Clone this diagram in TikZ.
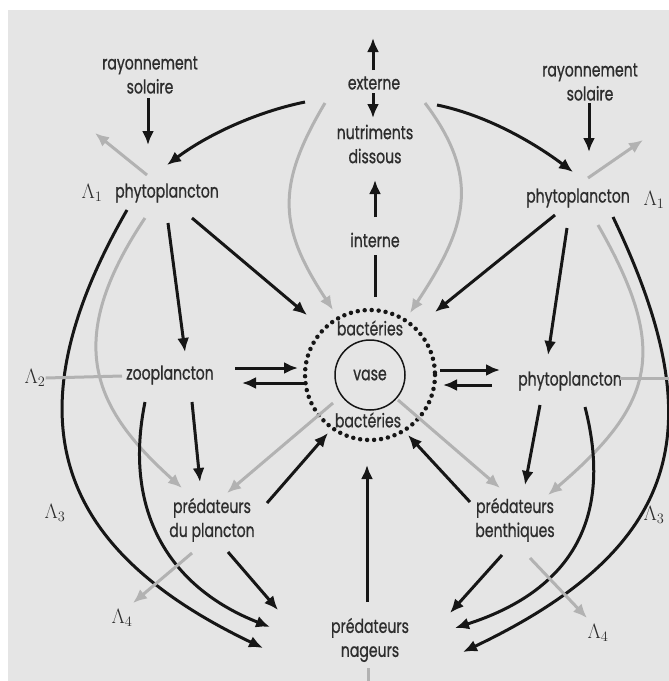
\documentclass[tikz,border=0pt]{standalone}
\usepackage{fontspec}
\setmainfont{Poppins}[FakeStretch=0.74,FakeBold=0.8]
\usetikzlibrary{arrows.meta,calc}
\definecolor{paper}{RGB}{229,229,229}
\definecolor{loss}{RGB}{178,178,178}
\definecolor{ink}{RGB}{22,22,22}

\begin{document}
\begin{tikzpicture}[x=1pt,y=-1pt,
  font=\fontsize{19}{24}\selectfont,
  lbl/.style={align=center,inner sep=1pt,text=ink!90},
  lam/.style={inner sep=0pt,text=ink!90,font=\fontsize{20}{20}\selectfont},
  ar/.style={-{Latex[length=14pt,width=12pt]},line width=3pt,draw=ink},
  gar/.style={ar,draw=loss},
  gln/.style={line width=3pt,draw=loss},
  ln/.style={line width=3pt,draw=ink}
]
% paper
\useasboundingbox (0,0) rectangle (669,681);
\clip (0,0) rectangle (669,681);
\fill[white] (0,0) rectangle (669,681);
\fill[paper] (8,10) rectangle (669,681);
% top row
\node[lbl] (ray1) at (150,75) {rayonnement\\solaire};
\node[lbl] (ray2) at (590,82) {rayonnement\\solaire};
\node[lbl] (ext) at (374,83) {externe};
\coordinate (up) at (373,38);
\node[lbl] (nut) at (375,144) {nutriments\\dissous};
\node[lbl] (int) at (375,240) {interne};
\node[lbl] (phy1) at (167,193) {phytoplancton};
\node[lbl] (phy2) at (578,198) {phytoplancton};
% sediment
\node[circle,draw=ink,line width=1.5pt,minimum size=70pt,inner sep=0pt,text=ink!90] (bact) at (370,375) {vase};
\draw[ink,line width=4.5pt,line cap=round,dash pattern=on 0pt off 7pt] (bact) circle[radius=65];
\node[lbl] (bt) at (370,328) {bactéries};
\node[lbl] (bb) at (368,420) {bactéries};
% middle row
\node[lbl] (zoo) at (170,375) {zooplancton};
\node[lbl] (phy3) at (570,381) {phytoplancton};
% predators
\node[lbl] (pdp) at (212,520) {prédateurs\\du plancton};
\node[lbl] (pben) at (515,520) {prédateurs\\benthiques};
\node[lbl] (pnag) at (370,640) {prédateurs\\nageurs};
\coordinate (down) at (368,690);
% losses
\node[lam] (L1a) at (92,193) {$\Lambda_1$};
\node[lam] (L1b) at (654,200) {$\Lambda_1$};
\node[lam] (L2a) at (35,378) {$\Lambda_2$};
\coordinate (L2b) at (675,378);
\node[lam] (L3a) at (55,513) {$\Lambda_3$};
\node[lam] (L3b) at (654,515) {$\Lambda_3$};
\node[lam] (L4a) at (122,618) {$\Lambda_4$};
\node[lam] (L4b) at (598,633) {$\Lambda_4$};

% nutrients
\draw[ar] ($(ext)+(-1,-13)$) -- (up);
\draw[ar] ($(ext)+(-1,10)$) -- ($(nut)+(-2,-26)$);
\draw[ar] ($(int)+(0,-23)$) -- ($(nut)+(0,36)$);
\draw[ln] ($(int)+(0,15)$) -- ($(bact)+(5,-78)$);
\draw[gar] ($(ext)+(-49,20)$) .. controls +(-50,84) and +(-54,-82) .. ($(bact)+(-37,-65)$);
\draw[gar] ($(ext)+(51,20)$) .. controls +(59,78) and +(54,-82) .. ($(bact)+(40,-62)$);
\draw[ar] ($(ext)+(-69,19)$) .. controls +(-49,10) and +(40,-30) .. ($(phy1)+(0,-28)$);
\draw[ar] ($(ext)+(63,22)$) .. controls +(49,10) and +(-40,-30) .. ($(phy2)+(-5,-26)$);
% left phytoplancton
\draw[ar] ($(ray1)+(-2,23)$) -- ($(phy1)+(-19,-48)$);
\draw[gar] ($(phy1)+(-20,-18)$) -- ($(phy1)+(-72,-60)$);
\draw[ar] ($(phy1)+(25,25)$) -- ($(bact)+(-63,-60)$);
\draw[ar] ($(phy1)+(1,30)$) -- ($(zoo)+(15,-23)$);
\draw[ar] ($(phy1)+(-40,17)$) .. controls +(-120,209) and +(-207,-99) .. ($(pnag)+(-107,8)$);
\draw[gar] ($(phy1)+(-22,25)$) .. controls +(-83,124) and +(-89,-80) .. ($(pdp)+(-30,-32)$);
% right phytoplancton
\draw[ar] ($(ray2)+(-1,21)$) -- ($(phy2)+(11,-46)$);
\draw[gar] ($(phy2)+(10,-20)$) -- ($(phy2)+(65,-58)$);
\draw[ar] ($(phy2)+(-23,17)$) -- ($(bact)+(65,-63)$);
\draw[ar] ($(phy2)+(-11,30)$) -- ($(phy3)+(-22,-26)$);
\draw[gar] ($(phy2)+(20,27)$) .. controls +(71,124) and +(108,-92) .. ($(pben)+(33,-25)$);
\draw[ar] ($(phy2)+(35,19)$) .. controls +(97,203) and +(227,-108) .. ($(pnag)+(93,12)$);
% exchanges with the sediment
\draw[ar] ($(zoo)+(65,-7)$) -- ($(bact)+(-72,-7)$);
\draw[ar] ($(bact)+(-65,8)$) -- ($(zoo)+(72,8)$);
\draw[ar] ($(bact)+(70,-5)$) -- ($(phy3)+(-70,-11)$);
\draw[ar] ($(phy3)+(-78,4)$) -- ($(bact)+(73,10)$);
% zooplancton side
\draw[gln] (L2a.east) -- ($(zoo)+(-48,1)$);
\draw[ar] ($(zoo)+(22,27)$) -- ($(pdp)+(-12,-38)$);
\draw[ar] ($(zoo)+(-25,27)$) .. controls +(-22,108) and +(-102,-40) .. ($(pnag)+(-100,-13)$);
\draw[gar] ($(bact)+(-37,28)$) -- ($(pdp)+(15,-27)$);
\draw[ar] ($(pdp)+(55,-17)$) -- ($(bact)+(-42,58)$);
\draw[ar] ($(pdp)+(16,32)$) -- ($(pnag)+(-92,-30)$);
\draw[gar] ($(pdp)+(-20,33)$) -- ($(L4a)+(11,-15)$);
% benthic side
\draw[gln] ($(phy3)+(50,-3)$) -- (L2b);
\draw[ar] ($(phy3)+(-30,24)$) -- ($(pben)+(10,-35)$);
\draw[ar] ($(phy3)+(15,26)$) .. controls +(36,140) and +(84,-27) .. ($(pnag)+(85,-12)$);
\draw[gar] ($(bact)+(28,25)$) -- ($(pben)+(-15,-32)$);
\draw[ar] ($(pben)+(-45,-18)$) -- ($(bact)+(38,60)$);
\draw[ar] ($(pben)+(-13,35)$) -- ($(pnag)+(80,-27)$);
\draw[gar] ($(pben)+(15,38)$) -- ($(L4b)+(-11,-15)$);
% swimmers
\draw[ar] ($(pnag)+(-3,-38)$) -- ($(bact)+(-3,90)$);
\draw[gln] ($(pnag)+(-2,28)$) -- (down);
\end{tikzpicture}
\end{document}
